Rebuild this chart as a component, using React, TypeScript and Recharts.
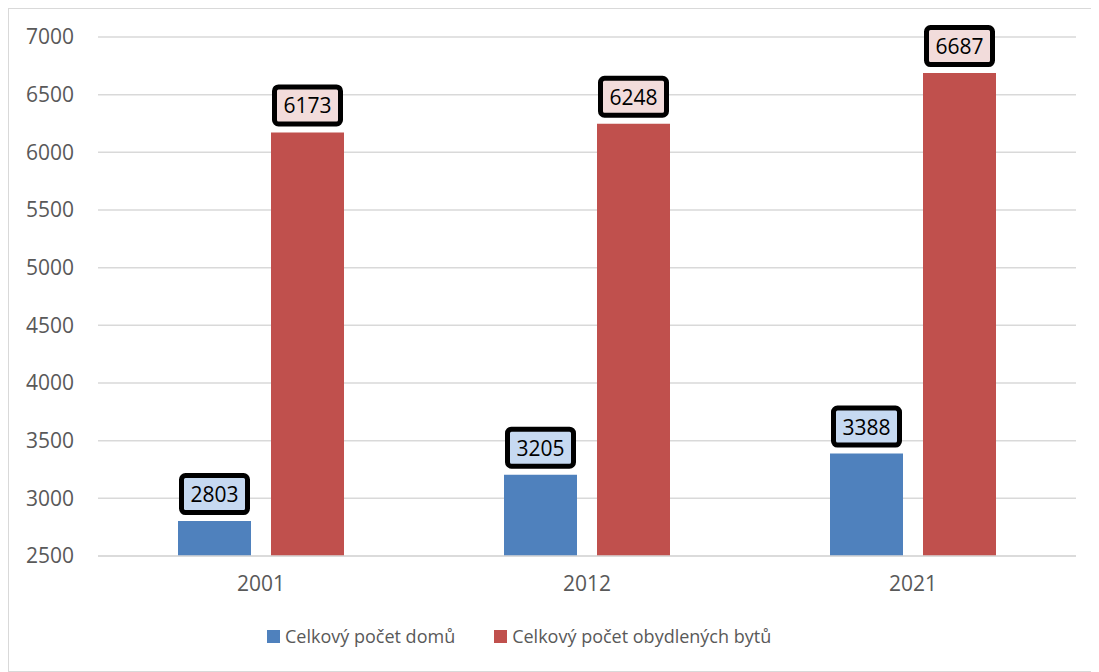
import React from "react";
import { BarChart, Bar, XAxis, YAxis, CartesianGrid, LabelList } from "recharts";

const years = ["2001", "2012", "2021"];
const houses = [2803, 3205, 3388];
const flats = [6173, 6248, 6687];
const yTicks = [2500, 3000, 3500, 4000, 4500, 5000, 5500, 6000, 6500, 7000];

const seriesNames = ["Celkový počet domů", "Celkový počet obydlených bytů"];
const barColors = ["#4f81bd", "#c0504d"];
const boxColors = ["#c6d9f1", "#f2dcdb"];

const data = years.map((y, i) => ({ year: y, houses: houses[i], flats: flats[i] }));

const FONT = '"Open Sans", sans-serif';

function boxLabel(fill: string) {
  return (props: any) => {
    const { x, y, width, value } = props;
    const cx = x + width / 2;
    const w = 66;
    const h = 37;
    const bottom = y - 8.5;
    return (
      <g>
        <rect
          x={cx - w / 2}
          y={bottom - h}
          width={w}
          height={h}
          rx={4}
          fill={fill}
          stroke="#000"
          strokeWidth={5}
        />
        <text
          x={cx}
          y={bottom - h / 2}
          textAnchor="middle"
          dominantBaseline="central"
          fill="#000"
          fontSize={21}
          fontFamily={FONT}
        >
          {value}
        </text>
      </g>
    );
  };
}

export default function App() {
  return (
    <div
      style={{
        position: "relative",
        width: 1088,
        height: 662,
        border: "1px solid #d9d9d9",
        background: "#fff",
        fontFamily: FONT,
      }}
    >
      <BarChart
        width={1088}
        height={662}
        data={data}
        margin={{ top: 28, right: 21, left: 9, bottom: 75 }}
        barSize={73}
        barGap={20}
      >
        <CartesianGrid vertical={false} stroke="#d9d9d9" strokeWidth={1.5} />
        <XAxis
          dataKey="year"
          height={40}
          axisLine={{ stroke: "#d9d9d9", strokeWidth: 1.5 }}
          tickLine={false}
          tickSize={0}
          tickMargin={20}
          tick={{ fill: "#595959", fontSize: 21, fontFamily: FONT }}
        />
        <YAxis
          width={80}
          domain={[2500, 7000]}
          ticks={yTicks}
          interval={0}
          axisLine={false}
          tickLine={false}
          tickSize={0}
          tickMargin={24}
          tick={{ fill: "#595959", fontSize: 21, fontFamily: FONT }}
        />
        <Bar dataKey="houses" fill={barColors[0]} isAnimationActive={false}>
          <LabelList dataKey="houses" content={boxLabel(boxColors[0])} />
        </Bar>
        <Bar dataKey="flats" fill={barColors[1]} isAnimationActive={false}>
          <LabelList dataKey="flats" content={boxLabel(boxColors[1])} />
        </Bar>
      </BarChart>
      <div
        style={{
          position: "absolute",
          left: 258,
          top: 615,
          display: "flex",
          alignItems: "center",
          gap: 39,
          color: "#595959",
          fontSize: 18,
          whiteSpace: "nowrap",
        }}
      >
        {seriesNames.map((n, i) => (
          <span key={n} style={{ display: "flex", alignItems: "center", gap: 5 }}>
            <span style={{ width: 13, height: 13, background: barColors[i], display: "inline-block" }} />
            <span>{n}</span>
          </span>
        ))}
      </div>
    </div>
  );
}
